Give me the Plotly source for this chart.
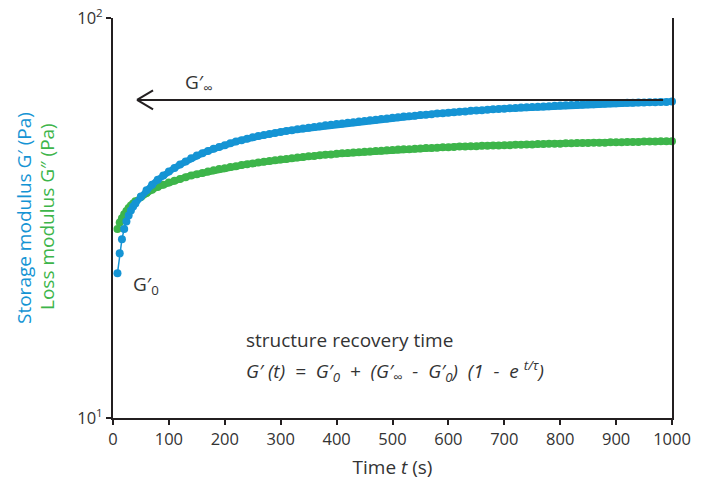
import math
import plotly.graph_objects as go

# ---------------- data ----------------
time_s = [8, 12, 16, 20, 24, 28, 32, 36,
          40, 50, 60, 70, 80, 90, 100, 110, 120, 130, 140, 150, 160, 170, 180, 190, 200,
          210, 220, 230, 240, 250, 260, 270, 280, 290, 300, 310, 320, 330, 340, 350,
          360, 370, 380, 390, 400, 410, 420, 430, 440, 450, 460, 470, 480, 490, 500,
          510, 520, 530, 540, 550, 560, 570, 580, 590, 600, 610, 620, 630, 640, 650,
          660, 670, 680, 690, 700, 710, 720, 730, 740, 750, 760, 770, 780, 790, 800,
          810, 820, 830, 840, 850, 860, 870, 880, 890, 900, 910, 920, 930, 940, 950,
          960, 970, 980, 990, 1000]

storage_G1 = [23.0, 25.8, 28.0, 29.7, 31.0, 32.1, 33.0, 33.8,
              34.4, 35.8, 37.1, 38.3, 39.4, 40.4, 41.3, 42.2, 43.0, 43.8, 44.6, 45.3, 45.9, 46.5, 47.1, 47.6, 48.1,
              48.6, 49.1, 49.5, 49.9, 50.3, 50.7, 51.0, 51.3, 51.6, 51.9, 52.2, 52.4, 52.7, 52.9, 53.2,
              53.4, 53.6, 53.9, 54.1, 54.3, 54.5, 54.7, 54.9, 55.1, 55.3, 55.5, 55.7, 55.9, 56.1, 56.3,
              56.5, 56.7, 56.8, 57.0, 57.2, 57.3, 57.5, 57.7, 57.8, 58.0, 58.1, 58.3, 58.4, 58.6, 58.7,
              58.8, 59.0, 59.1, 59.2, 59.3, 59.5, 59.6, 59.7, 59.8, 59.9, 60.0, 60.1, 60.2, 60.3, 60.4,
              60.5, 60.6, 60.7, 60.8, 60.9, 60.9, 61.0, 61.1, 61.2, 61.2, 61.3, 61.4, 61.4, 61.5, 61.5,
              61.6, 61.6, 61.7, 61.7, 61.8]

loss_G2 = [29.7, 30.8, 31.6, 32.3, 32.9, 33.5, 34.0, 34.4,
           34.8, 35.7, 36.5, 37.2, 37.8, 38.3, 38.8, 39.2, 39.6, 40.0, 40.4, 40.7, 41.0, 41.3, 41.6, 41.9, 42.1,
           42.4, 42.6, 42.9, 43.1, 43.3, 43.5, 43.7, 43.9, 44.1, 44.3, 44.4, 44.6, 44.8, 44.9, 45.1,
           45.2, 45.4, 45.5, 45.6, 45.8, 45.9, 46.0, 46.1, 46.2, 46.3, 46.4, 46.5, 46.6, 46.7, 46.8,
           46.9, 47.0, 47.0, 47.1, 47.2, 47.3, 47.3, 47.4, 47.5, 47.5, 47.6, 47.7, 47.7, 47.8, 47.8,
           47.9, 47.9, 48.0, 48.0, 48.1, 48.1, 48.2, 48.2, 48.3, 48.3, 48.4, 48.4, 48.5, 48.5, 48.5,
           48.6, 48.6, 48.7, 48.7, 48.7, 48.8, 48.8, 48.8, 48.9, 48.9, 48.9, 49.0, 49.0, 49.0, 49.1,
           49.1, 49.1, 49.2, 49.2, 49.2]

x_ticks = [0, 100, 200, 300, 400, 500, 600, 700, 800, 900, 1000]
y_ticks = [10, 100]
y_tick_text = ["10<sup>1</sup>", "10<sup>2</sup>"]

G_inf_level = 62.4      # level of the G'∞ arrow
arrow_from_t = 984
arrow_to_t = 43

# ---------------- style ----------------
BLUE = "#1594d4"
GREEN = "#3db54a"
INK = "#231f20"
TXT = "#333333"
FONT = "Open Sans"

W, H = 710, 487
OFF = 8                      # page body margin offset
L, R, T, B = 113 - OFF, 672 - OFF, 18 - OFF, 418 - OFF
BAND_FROM = 8                # index from which points merge into a band
SP = "\u00a0"


def px(xp):
    return (xp - OFF - L) / (R - L)


def py(yp):
    return (B - (yp - OFF)) / (B - T)


fig = go.Figure()

for yv, col in ((loss_G2, GREEN), (storage_G1, BLUE)):
    fig.add_trace(go.Scatter(
        x=time_s[BAND_FROM:], y=yv[BAND_FROM:], mode="lines",
        line=dict(color=col, width=6.5), cliponaxis=False, showlegend=False,
        hoverinfo="skip"))
    fig.add_trace(go.Scatter(
        x=time_s, y=yv, mode="lines+markers",
        line=dict(color=col, width=1.5),
        marker=dict(color=col, size=8, line=dict(width=0)),
        cliponaxis=False, showlegend=False))

arrow_y = math.log10(G_inf_level) - 1.0  # paper fraction on the 10..100 log axis

shapes = [
    dict(type="line", xref="x", yref="paper", x0=arrow_from_t, x1=arrow_to_t,
         y0=arrow_y, y1=arrow_y, line=dict(color=INK, width=2)),
    dict(type="line", xref="x", yref="paper", xsizemode="pixel", ysizemode="pixel",
         xanchor=arrow_to_t, yanchor=arrow_y, x0=0, x1=16, y0=0, y1=9.5,
         line=dict(color=INK, width=2)),
    dict(type="line", xref="x", yref="paper", xsizemode="pixel", ysizemode="pixel",
         xanchor=arrow_to_t, yanchor=arrow_y, x0=0, x1=16, y0=0, y1=-9.5,
         line=dict(color=INK, width=2)),
]

ann_font = dict(family=FONT, size=19, color=TXT)
formula = ("<i>G′ (t)" + SP * 2 + "=" + SP * 2 + "G′<sub>0</sub>" + SP * 2 + "+" + SP * 2 +
           "(G′<sub>∞</sub>" + SP * 2 + "-" + SP * 2 + "G′<sub>0</sub>)" + SP * 2 +
           "(1" + SP * 2 + "-" + SP * 2 + "e" + SP + "<sup>t/τ</sup>)</i>")
annotations = [
    dict(text="G′<sub>∞</sub>", xref="paper", yref="paper", x=px(183), y=py(83),
         xanchor="left", yanchor="middle", showarrow=False, font=ann_font),
    dict(text="G′<sub>0</sub>", xref="paper", yref="paper", x=px(131), y=py(285),
         xanchor="left", yanchor="middle", showarrow=False, font=ann_font),
    dict(text="structure recovery time", xref="paper", yref="paper", x=px(244), y=py(340),
         xanchor="left", yanchor="middle", showarrow=False, font=ann_font),
    dict(text=formula, xref="paper", yref="paper", x=px(244), y=py(371),
         xanchor="left", yanchor="middle", showarrow=False, font=ann_font),
    dict(text="Storage modulus G′ (Pa)", xref="paper", yref="paper", x=px(24), y=py(218),
         xanchor="center", yanchor="middle", textangle=-90, showarrow=False,
         font=dict(family=FONT, size=19, color=BLUE)),
    dict(text="Loss modulus G″ (Pa)", xref="paper", yref="paper", x=px(47), y=py(217),
         xanchor="center", yanchor="middle", textangle=-90, showarrow=False,
         font=dict(family=FONT, size=19, color=GREEN)),
]

fig.update_layout(
    width=W, height=H,
    margin=dict(l=L, r=W - R, t=T, b=H - B, pad=0, autoexpand=False),
    paper_bgcolor="white", plot_bgcolor="white",
    font=dict(family=FONT, size=16, color=TXT),
    shapes=shapes, annotations=annotations,
    xaxis=dict(range=[0, 1000], tickvals=x_ticks, ticks="outside", ticklen=5,
               tickwidth=1.5, tickcolor=INK, showline=True, linecolor=INK, linewidth=2,
               showgrid=False, zeroline=False, mirror=False, automargin=False,
               ticklabeloverflow="allow",
               tickfont=dict(family=FONT, size=16.5, color=TXT),
               title=dict(text="Time <i>t</i> (s)", standoff=12,
                          font=dict(family=FONT, size=19, color=TXT))),
    yaxis=dict(type="log", range=[1, 2], tickvals=y_ticks, ticktext=y_tick_text,
               ticks="outside", ticklen=5, tickwidth=1.5, tickcolor=INK,
               showline=True, linecolor=INK, linewidth=2, mirror=True,
               showgrid=False, zeroline=False, automargin=False,
               ticklabeloverflow="allow",
               tickfont=dict(family=FONT, size=16.5, color=TXT)),
)

fig.write_html("out.html")
